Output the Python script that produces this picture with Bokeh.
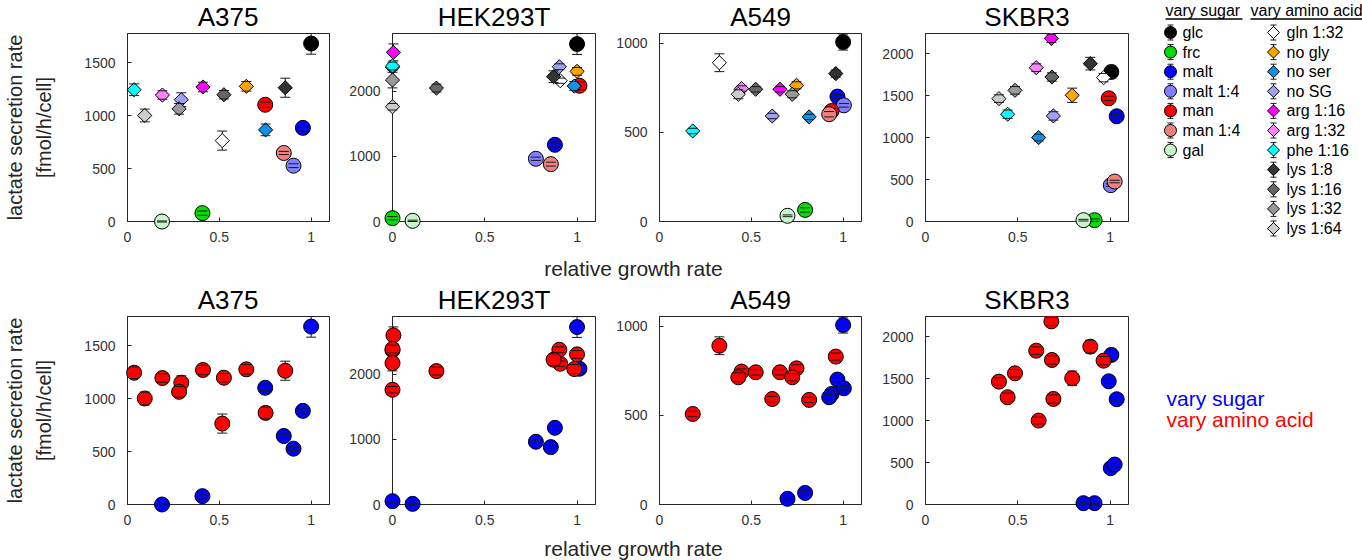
import math
from bokeh.plotting import figure
from bokeh.layouts import row, column
from bokeh.models import Range1d, FixedTicker, Label
from bokeh.embed import file_html
from bokeh.resources import INLINE

# ---------------- data ----------------
cell_lines = ["A375", "HEK293T", "A549", "SKBR3"]
conditions = ["glc", "frc", "malt", "malt 1:4", "man", "man 1:4", "gal",
              "gln 1:32", "no gly", "no ser", "no SG", "arg 1:16", "arg 1:32",
              "phe 1:16", "lys 1:8", "lys 1:16", "lys 1:32", "lys 1:64"]
condition_group = ["sugar"] * 7 + ["amino"] * 11
condition_colors = ["#000000", "#00e000", "#0000ff", "#8080ff", "#ff0000", "#f08080", "#c8f5c8",
                    "#ffffff", "#ffa500", "#1090e8", "#a0a0f5", "#ff00ff", "#ff80ff",
                    "#00ffff", "#333333", "#666666", "#999999", "#cccccc"]

a375_growth = [1.00, 0.408, 0.955, 0.904, 0.750, 0.851, 0.188,
               0.516, 0.647, 0.752, 0.293, 0.411, 0.190, 0.036, 0.859, 0.525, 0.281, 0.094]
a375_lactate = [1680, 79, 884, 527, 1102, 647, 0,
                764, 1276, 865, 1150, 1270, 1194, 1244, 1263, 1197, 1064, 1001]
a375_err = [100, 20, 20, 18, 25, 15, 5,
            90, 45, 55, 65, 45, 40, 55, 90, 40, 50, 60]

hek_growth = [1.00, 0.0, 0.880, 0.777, 1.013, 0.858, 0.109,
              0.909, 1.000, 0.985, 0.904, 0.005, 0.0, 0.0, 0.873, 0.238, 0.0, 0.0]
hek_lactate = [2728, 51, 1179, 964, 2087, 882, 10,
               2164, 2308, 2082, 2379, 2600, 2370, 2390, 2226, 2051, 2174, 1764]
hek_err = [160, 25, 30, 25, 60, 30, 10,
           40, 60, 70, 45, 130, 40, 60, 90, 60, 120, 50]

a549_growth = [1.00, 0.793, 0.969, 1.004, 0.937, 0.924, 0.697,
               0.326, 0.746, 0.815, 0.614, 0.656, 0.447, 0.181, 0.960, 0.524, 0.723, 0.429]
a549_lactate = [1007, 65, 701, 652, 620, 602, 32,
                891, 764, 587, 592, 742, 746, 508, 830, 742, 714, 714]
a549_err = [45, 12, 12, 10, 15, 15, 5,
            50, 20, 15, 15, 15, 15, 15, 20, 15, 20, 25]

skbr3_growth = [1.007, 0.916, 1.036, 1.004, 0.993, 1.025, 0.856,
                0.965, 0.795, 0.613, 0.693, 0.682, 0.600, 0.445, 0.893, 0.685, 0.485, 0.398]
skbr3_lactate = [1782, 16, 1254, 433, 1468, 476, 16,
                 1714, 1504, 1000, 1258, 2182, 1833, 1278, 1881, 1722, 1563, 1464]
skbr3_err = [70, 15, 20, 15, 25, 15, 10,
             50, 85, 40, 50, 50, 45, 50, 75, 50, 45, 45]

growth = [a375_growth, hek_growth, a549_growth, skbr3_growth]
lactate = [a375_lactate, hek_lactate, a549_lactate, skbr3_lactate]
lactate_err = [a375_err, hek_err, a549_err, skbr3_err]

y_max = [1775, 2890, 1055, 2240]
y_ticks = [[0, 500, 1000, 1500], [0, 1000, 2000], [0, 500, 1000], [0, 500, 1000, 1500, 2000]]
x_max = 1.1
x_ticks = [0, 0.5, 1]
x_tick_labels = ["0", "0.5", "1"]
group_colors = {"sugar": "#0000ff", "amino": "#ff0000"}
group_labels = {"sugar": "vary sugar", "amino": "vary amino acid"}
y_label = "lactate secretion rate\n[fmol/h/cell]"
x_label = "relative growth rate"

# ---------------- style / layout ----------------
FONT = "Liberation Sans"
INK = "#262626"
TICK_INK = "#333333"
BAR = "#1a1a1a"
FRAME_H = 188
FRAME_W = [203, 203, 202, 203]
LEFTS = [126, 58, 59, 59]
RIGHT = 5
PANEL_TOP = 0
PANEL_BOTTOM = 28
MAIN_W = sum(LEFTS) + sum(FRAME_W) + 4 * RIGHT
TOTAL_W = 1362
TOTAL_H = 560
SIDE_W = TOTAL_W - MAIN_W
TITLE_BAND_H = 33
MID_BAND_H = 67
END_BAND_H = 28


def style_axis(ax):
    ax.major_tick_in = 4
    ax.major_tick_out = 0
    ax.minor_tick_in = 0
    ax.minor_tick_out = 0
    ax.axis_line_color = INK
    ax.major_tick_line_color = INK
    ax.major_label_text_font = FONT
    ax.major_label_text_font_size = "14px"
    ax.major_label_text_color = TICK_INK


def panel(k, by_group):
    w = LEFTS[k] + FRAME_W[k] + RIGHT
    h = PANEL_TOP + FRAME_H + PANEL_BOTTOM
    p = figure(width=w, height=h, x_range=Range1d(0, x_max), y_range=Range1d(0, y_max[k]),
               output_backend="svg", toolbar_location=None,
               min_border_left=LEFTS[k], min_border_right=RIGHT,
               min_border_top=PANEL_TOP, min_border_bottom=PANEL_BOTTOM)
    p.grid.visible = False
    p.outline_line_color = INK
    p.background_fill_color = "white"
    p.border_fill_color = "white"
    for ax in list(p.xaxis) + list(p.yaxis):
        style_axis(ax)
    p.xaxis.ticker = FixedTicker(ticks=x_ticks)
    p.xaxis.major_label_overrides = dict(zip(x_ticks, x_tick_labels))
    p.xaxis.major_label_standoff = 10
    p.yaxis.ticker = FixedTicker(ticks=y_ticks[k])
    p.yaxis.major_label_standoff = 12
    if k == 0:
        p.yaxis.axis_label = y_label
        p.yaxis.axis_label_text_font = FONT
        p.yaxis.axis_label_text_font_size = "20px"
        p.yaxis.axis_label_text_font_style = "normal"
        p.yaxis.axis_label_text_color = INK
        p.yaxis.axis_label_text_line_height = 1.35
        p.yaxis.axis_label_standoff = 26

    for i in range(len(conditions)):
        x = growth[k][i]
        y = lactate[k][i]
        e = lactate_err[k][i]
        sugar = condition_group[i] == "sugar"
        if by_group:
            fill = group_colors[condition_group[i]]
            marker, size, angle = "circle", 15, 0
        else:
            fill = condition_colors[i]
            if sugar:
                marker, size, angle = "circle", 15, 0
            else:
                marker, size, angle = "square", 10, math.pi / 4
        p.segment(x0=[x], y0=[y - e], x1=[x], y1=[y + e], line_color=BAR, line_width=1, level="overlay")
        p.scatter(x=[x], y=[y], marker=marker, size=size, angle=angle, fill_color=fill,
                  line_color="black", line_width=1, level="overlay")
        p.scatter(x=[x, x], y=[y - e, y + e], marker="dash", size=10, line_color=BAR,
                  line_width=1, level="overlay")
    return p


def blank_fig(w, h):
    p = figure(width=w, height=h, x_range=Range1d(0, w), y_range=Range1d(h, 0),
               x_axis_type=None, y_axis_type=None, output_backend="svg",
               toolbar_location=None, min_border=0)
    p.grid.visible = False
    p.outline_line_color = None
    p.background_fill_color = "white"
    p.border_fill_color = "white"
    return p


def add_titles(p, center_y):
    x0 = 0
    for k in range(4):
        cx = x0 + LEFTS[k] + FRAME_W[k] / 2
        x0 += LEFTS[k] + FRAME_W[k] + RIGHT
        p.add_layout(Label(x=cx, y=center_y, text=cell_lines[k], text_align="center",
                           text_baseline="middle", text_font=FONT, text_font_size="26px",
                           text_color="black"))


def add_xlabel(p, center_y):
    p.add_layout(Label(x=633, y=center_y, text=x_label, text_align="center", text_baseline="middle",
                       text_font=FONT, text_font_size="21px", text_color=INK))


def side_fig():
    p = blank_fig(SIDE_W, TOTAL_H)
    cols = [("sugar", 37, 49, 32, 77), ("amino", 140, 153, 117, 112)]
    for group, icon_x, text_x, head_x, head_w in cols:
        p.add_layout(Label(x=head_x, y=9.5, text=group_labels[group], text_baseline="middle",
                           text_font=FONT, text_font_size="16px", text_color="black"))
        p.segment(x0=[head_x], y0=[18.5], x1=[head_x + head_w], y1=[18.5], line_color="black", line_width=1.5)
        idx = [i for i, g in enumerate(condition_group) if g == group]
        for j, i in enumerate(idx):
            yc = 32 + 19.6 * j
            p.segment(x0=[icon_x], y0=[yc - 7.5], x1=[icon_x], y1=[yc + 7.5], line_color=BAR, line_width=1)
            if group == "sugar":
                p.scatter(x=[icon_x], y=[yc], marker="circle", size=12, fill_color=condition_colors[i],
                          line_color="black", line_width=1)
            else:
                p.scatter(x=[icon_x], y=[yc], marker="square", size=8.5, angle=math.pi / 4,
                          fill_color=condition_colors[i], line_color="black", line_width=1)
            p.scatter(x=[icon_x, icon_x], y=[yc - 7.5, yc + 7.5], marker="dash", size=6,
                      line_color=BAR, line_width=1)
            p.add_layout(Label(x=text_x, y=yc, text=conditions[i], text_baseline="middle",
                               text_font=FONT, text_font_size="16px", text_color="black"))
    for j, g in enumerate(["sugar", "amino"]):
        p.add_layout(Label(x=33, y=398 + 21 * j, text=group_labels[g], text_baseline="middle",
                           text_font=FONT, text_font_size="21px", text_color=group_colors[g]))
    return p


top_panels = [panel(k, False) for k in range(4)]
bot_panels = [panel(k, True) for k in range(4)]

title_band = blank_fig(MAIN_W, TITLE_BAND_H)
add_titles(title_band, 16.5)

mid_band = blank_fig(MAIN_W, MID_BAND_H)
add_xlabel(mid_band, 18.5)
add_titles(mid_band, 50.5)

end_band = blank_fig(MAIN_W, END_BAND_H)
add_xlabel(end_band, 15.5)

main = column(title_band, row(*top_panels), mid_band, row(*bot_panels), end_band)
layout = row(main, side_fig())

open("out.html", "w").write(file_html(layout, INLINE))
